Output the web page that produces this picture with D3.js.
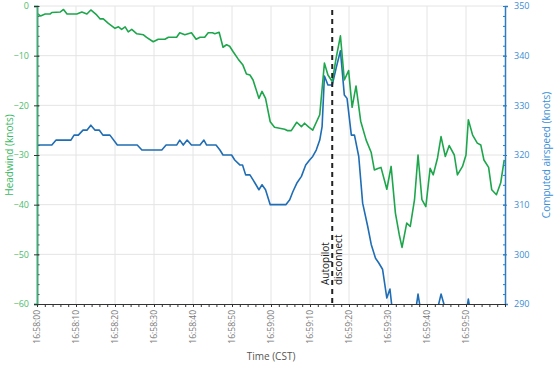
<!DOCTYPE html>
<html>
<head>
<meta charset="utf-8">
<style>
    body { margin: 0; background: #fff; }
    svg { font-family: 'Open Sans', 'DejaVu Sans', sans-serif; }
</style>
</head>
<body>
<svg width="556" height="366"></svg>
<script src="https://d3js.org/d3.v7.min.js"></script>
<script>
// seconds after 16:58:00 and headwind (knots)
let headwindSec = [0, 0.9, 2.1, 3.4, 3.8, 6.0, 6.8, 7.7, 10.2, 11.5, 12.8, 13.8, 15.3, 16.2, 17.0, 18.3, 20.0, 20.9, 21.7, 22.6,
    23.4, 24.3, 25.6, 27.3, 28.1, 29.8, 31.1, 32.8, 33.7, 35.8, 36.6, 37.9, 39.6, 40.8, 41.8, 43.0, 43.9, 45.0, 45.6, 46.7,
    47.7, 48.6, 49.4, 50.3, 51.6, 52.8, 53.7, 54.6, 55.4, 56.9, 57.7, 58.6, 59.8, 60.9, 62.2, 63.5, 64.3, 65.2, 66.6, 67.8,
    68.6, 69.7, 70.7, 72.5, 73.7, 74.6, 75.7, 76.7, 77.8, 78.8, 79.9, 80.8, 81.8, 83.0, 84.4, 85.7, 86.5, 87.4, 88.2, 89.7,
    90.8, 91.9, 92.9, 93.6, 94.8, 95.7, 96.8, 97.7, 98.7, 99.7, 100.8, 101.6, 102.7, 103.6, 104.7, 105.7, 107.0, 107.8, 109.1, 110.0,
    110.6, 111.7, 112.9, 113.8, 114.6, 115.8, 116.6, 117.8, 118.9, 119.8]
let headwind = [-1.5, -2.0, -1.6, -1.6, -1.3, -1.2, -0.7, -1.6, -1.6, -1.2, -1.6, -0.8, -1.8, -2.6, -2.6, -3.5, -4.5, -4.2, -4.7, -4.2,
    -5.2, -4.7, -5.6, -5.8, -6.3, -7.2, -6.7, -6.7, -6.3, -6.3, -5.4, -5.8, -5.4, -6.7, -6.3, -6.3, -5.4, -5.4, -5.6, -5.3,
    -8.3, -7.8, -8.1, -9.2, -10.7, -11.9, -13.7, -13.9, -14.9, -18.6, -17.2, -18.6, -23.3, -24.4, -24.6, -24.8, -25.1, -25.1, -23.4, -24.3,
    -23.6, -24.4, -25.0, -21.9, -11.5, -13.9, -15.2, -10.5, -6.0, -14.9, -13.0, -20.4, -16.1, -23.2, -27.0, -29.5, -33.0, -32.7, -32.5, -36.9,
    -32.3, -41.7, -46.1, -48.6, -43.7, -44.4, -39.0, -30.0, -39.0, -40.4, -32.7, -34.0, -30.6, -26.3, -30.3, -28.1, -30.0, -34.0, -32.3, -30.0,
    -22.9, -26.0, -27.6, -28.0, -31.0, -32.5, -37.0, -38.0, -35.6, -31.0]

// seconds after 16:58:00 and computed airspeed (knots)
let airspeedSec = [0, 3.8, 4.9, 8.7, 9.5, 10.6, 11.8, 12.8, 13.8, 14.9, 16.0, 16.9, 18.7, 20.6, 25.7, 26.9, 32.0, 33.1, 35.8, 36.6,
    37.5, 38.5, 39.6, 41.8, 42.8, 43.5, 45.9, 46.9, 47.7, 49.9, 50.7, 52.0, 52.7, 53.5, 54.6, 55.4, 56.9, 57.7, 58.6, 59.8,
    63.8, 64.8, 65.6, 66.6, 67.8, 68.9, 69.9, 70.7, 71.6, 72.5, 73.1, 73.7, 74.6, 75.7, 76.7, 77.8, 78.8, 79.5, 80.6, 81.4,
    82.5, 83.5, 84.8, 85.7, 86.8, 87.6, 88.6, 89.7, 90.5, 91.2, 94.0, 96.8, 97.7, 98.7, 102.7, 103.6, 104.7, 108.0, 110.0, 110.6,
    111.2, 119.8]
let airspeed = [322, 322, 323, 323, 324, 324, 325, 325, 326, 325, 325, 324, 324, 322, 322, 321, 321, 322, 322, 323,
    322, 323, 322, 322, 323, 322, 322, 321, 320, 320, 319, 318, 318, 316, 316, 315, 313, 314, 313, 310,
    310, 311, 312.6, 314.3, 315.7, 318, 319, 319.7, 321, 323, 325.7, 335.9, 334.1, 334.1, 337.5, 341, 332.1, 331.4, 324, 324,
    319.7, 310.3, 305.6, 302, 299.2, 298.3, 297, 291.2, 293, 288, 287, 287, 292, 287, 289, 292, 289, 287, 288, 291,
    288, 287]

let headwindTicks = [0, -10, -20, -30, -40, -50, -60]
let airspeedTicks = [350, 340, 330, 320, 310, 300, 290]
let autopilotSec = 75.7

let svg = d3.select('svg')
let margin = { top: 6, right: 51, bottom: 62, left: 37 }
let width = 556 - margin.left - margin.right
let height = 366 - margin.top - margin.bottom

let t0 = new Date(2000, 0, 1, 16, 58, 0)
let toDate = s => new Date(t0.getTime() + s * 1000)

let x = d3.scaleTime()
    .domain([t0, toDate(120)])
    .range([0, width])
let yL = d3.scaleLinear().domain([-60, 0]).range([height, 0])
let yR = d3.scaleLinear().domain([290, 350]).range([height, 0])

let g = svg.append('g').attr('transform', `translate(${margin.left},${margin.top})`)

g.append('clipPath').attr('id', 'plot')
    .append('rect').attr('width', width).attr('height', height)

// grid
let gridTimes = d3.range(10, 120, 10).map(toDate)
g.append('g').selectAll('line').data(gridTimes).join('line')
    .attr('x1', d => x(d)).attr('x2', d => x(d))
    .attr('y1', 0).attr('y2', height)
    .attr('stroke', '#e4e4e4')
g.append('g').selectAll('line').data(headwindTicks.slice(0, 6)).join('line')
    .attr('x1', 0).attr('x2', width)
    .attr('y1', d => yL(d)).attr('y2', d => yL(d))
    .attr('stroke', '#e4e4e4')

// lines
let hwLine = d3.line().x((d, i) => x(toDate(headwindSec[i]))).y(d => yL(d))
let asLine = d3.line().x((d, i) => x(toDate(airspeedSec[i]))).y(d => yR(d))

let lines = g.append('g').attr('clip-path', 'url(#plot)')
lines.append('path').datum(airspeed)
    .attr('d', asLine)
    .attr('fill', 'none').attr('stroke', '#1f6db4').attr('stroke-width', 1.6)
    .attr('stroke-linejoin', 'round')
lines.append('path').datum(headwind)
    .attr('d', hwLine)
    .attr('fill', 'none').attr('stroke', '#1ea64c').attr('stroke-width', 1.6)
    .attr('stroke-linejoin', 'round')

// autopilot disconnect marker
let xa = x(toDate(autopilotSec))
g.append('line')
    .attr('x1', xa).attr('x2', xa).attr('y1', 4).attr('y2', height)
    .attr('stroke', '#222').attr('stroke-width', 2).attr('stroke-dasharray', '5,4')
let note = g.append('text')
    .attr('transform', `translate(${xa - 3.5},${height - 19}) rotate(-90)`)
    .attr('font-size', 10).attr('fill', '#222')
note.append('tspan').attr('x', 0).attr('dy', 0).text('Autopilot')
note.append('tspan').attr('x', 0).attr('dy', 13.5).text('disconnect')

// left axis
let leftAxis = g.append('g')
leftAxis.append('g')
    .call(d3.axisLeft(yL).tickValues(d3.range(-60, 1, 2)).tickSize(-2.5).tickFormat(''))
    .call(a => a.select('.domain').remove())
    .selectAll('line').attr('stroke', '#333')
leftAxis.append('g')
    .call(d3.axisLeft(yL).tickValues(headwindTicks).tickSize(3).tickPadding(5))
    .call(a => a.select('.domain').attr('stroke', '#45a87a').attr('stroke-width', 2))
    .call(a => a.selectAll('.tick line').attr('stroke', '#333').attr('x2', -3).attr('x1', 2))
    .call(a => a.selectAll('text').attr('fill', '#4cbc6c').attr('font-size', 9).attr('font-family', "'Open Sans', sans-serif"))

// right axis
let rightAxis = g.append('g').attr('transform', `translate(${width},0)`)
rightAxis.append('g')
    .call(d3.axisRight(yR).tickValues(d3.range(290, 351, 2)).tickSize(-2).tickFormat(''))
    .call(a => a.select('.domain').remove())
    .selectAll('line').attr('stroke', '#2d7cc2')
rightAxis.append('g')
    .call(d3.axisRight(yR).tickValues(airspeedTicks).tickSize(3).tickPadding(6))
    .call(a => a.select('.domain').attr('stroke', '#2d7cc2').attr('stroke-width', 1.5))
    .call(a => a.selectAll('.tick line').attr('stroke', '#2d7cc2').attr('x1', -2).attr('x2', 2))
    .call(a => a.selectAll('text').attr('fill', '#3b8dd2').attr('font-size', 9).attr('font-family', "'Open Sans', sans-serif"))

// bottom axis
let bottom = g.append('g').attr('transform', `translate(0,${height})`)
bottom.append('g')
    .call(d3.axisBottom(x).ticks(d3.timeSecond.every(2)).tickSize(3).tickFormat(''))
    .call(a => a.select('.domain').attr('stroke', '#333'))
    .selectAll('line').attr('stroke', '#333')
bottom.append('g')
    .call(d3.axisBottom(x).tickValues(d3.range(0, 120, 10).map(toDate)).tickSize(0).tickFormat(d3.timeFormat('%H:%M:%S')))
    .call(a => a.select('.domain').remove())
    .selectAll('text')
    .attr('fill', '#777').attr('font-size', 8.5).attr('font-family', "'Open Sans', sans-serif")
    .attr('text-anchor', 'end')
    .attr('transform', 'rotate(-90)')
    .attr('x', -6).attr('y', 0).attr('dy', '0.32em')

// axis titles
svg.append('text')
    .attr('transform', `translate(13,${margin.top + height / 2}) rotate(-90)`)
    .attr('text-anchor', 'middle').attr('font-size', 10).attr('fill', '#3cb864')
    .text('Headwind (knots)')
svg.append('text')
    .attr('transform', `translate(550,${margin.top + height / 2}) rotate(-90)`)
    .attr('text-anchor', 'middle').attr('font-size', 10).attr('fill', '#3a8fd6')
    .text('Computed airspeed (knots)')
svg.append('text')
    .attr('x', margin.left + width / 2).attr('y', 360)
    .attr('text-anchor', 'middle').attr('font-size', 10).attr('fill', '#555')
    .text('Time (CST)')
</script>
</body>
</html>
